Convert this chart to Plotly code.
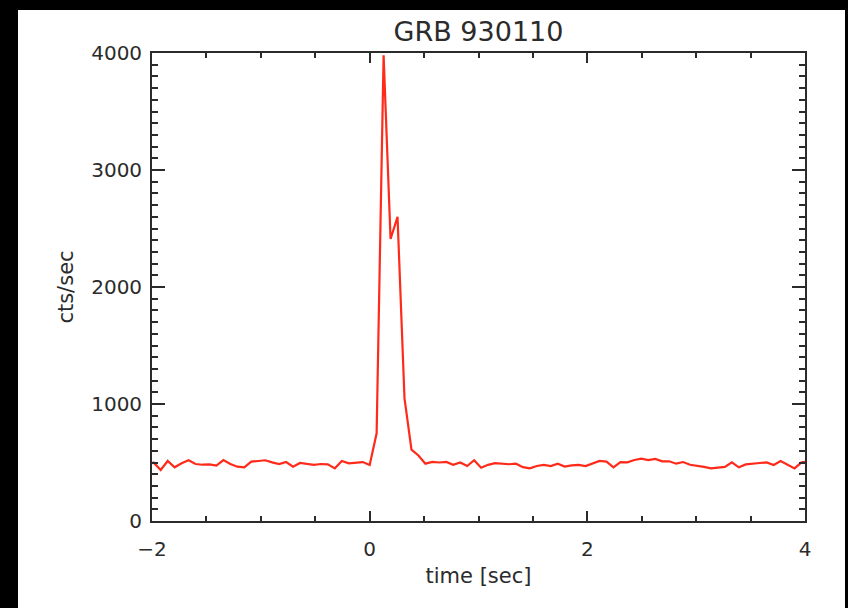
import plotly.graph_objects as go

# 64 ms bins, index k -> time k*0.064 s
bin_width = 0.064
k_start = -32
counts = [
    480,  # k=-32 (clipped)
    499, 436, 513, 459, 493, 519, 487, 481, 484, 473, 521, 487, 464, 459, 507, 513,
    519, 501, 487, 504, 464, 496, 487, 479, 487, 484, 450, 513, 493, 496, 504,
    479,  # k=0
    750, 3980, 2410, 2600, 1050, 610, 560, 490,
    505, 500, 505, 480, 500, 470, 520, 455, 480, 495, 490, 485, 490, 460, 450,
    470, 480, 470, 490, 465, 475, 480, 470, 495, 513,
    507, 459, 504, 501, 521, 533, 521, 530, 510, 510, 490, 504, 481, 473, 462,
    450, 453, 462, 501, 459, 484, 493, 496, 501, 478, 513, 484, 450, 501,
    510,  # k=63 (clipped)
]
times = [(k_start + i) * bin_width for i in range(len(counts))]

title_text = "GRB 930110"
x_title = "time [sec]"
y_title = "cts/sec"
x_ticks = [-2, 0, 2, 4]
y_ticks = [0, 1000, 2000, 3000, 4000]

ink = "#2b2b2b"
font = "DejaVu Sans"

fig = go.Figure()
fig.add_trace(go.Scatter(x=times, y=counts, mode="lines",
                         line=dict(color="#ff2a1a", width=2.2),
                         hoverinfo="skip", showlegend=False))

W, H = 848, 608
L, R, T, B = 152, 43, 53, 87
pw, ph = W - L - R, H - T - B
# white panel inside the black frame
fig.add_shape(type="rect", xref="paper", yref="paper", layer="below",
              x0=(18 - L) / pw, x1=(845 - L) / pw,
              y0=(H - B - 608) / ph, y1=(H - B - 10) / ph,
              fillcolor="white", line=dict(width=0))

fig.update_layout(
    width=W, height=H,
    margin=dict(l=L, r=R, t=T, b=B),
    paper_bgcolor="black", plot_bgcolor="white",
    font=dict(family=font, color=ink),
    title=dict(text=title_text, x=(L + pw / 2) / W, xanchor="center",
               yref="container", y=1 - 32 / H, yanchor="middle",
               font=dict(size=27, family=font, color=ink)),
)
fig.update_xaxes(range=[-2, 4], tickmode="array", tickvals=x_ticks,
                 ticktext=["\u22122", "0", "2", "4"],
                 showgrid=False, zeroline=False, showline=True, linecolor=ink,
                 linewidth=1.8, mirror="allticks", ticks="inside", ticklen=10,
                 tickwidth=1.6, tickcolor=ink, ticklabelstandoff=9,
                 tickfont=dict(size=20, family=font, color=ink),
                 minor=dict(dtick=0.5, ticks="inside", ticklen=5, tickwidth=1.6,
                            tickcolor=ink, showgrid=False),
                 title=dict(text=x_title, standoff=8,
                            font=dict(size=21, family=font, color=ink)))
fig.update_yaxes(range=[0, 4000], tickmode="array", tickvals=y_ticks,
                 showgrid=False, zeroline=False, showline=True, linecolor=ink,
                 linewidth=1.8, mirror="allticks", ticks="inside", ticklen=13,
                 tickwidth=1.6, tickcolor=ink, ticklabelstandoff=4,
                 tickfont=dict(size=20, family=font, color=ink),
                 minor=dict(dtick=100, ticks="inside", ticklen=6, tickwidth=1.6,
                            tickcolor=ink, showgrid=False),
                 title=dict(text=y_title, standoff=12,
                            font=dict(size=21, family=font, color=ink)))

fig.write_html("out.html")
